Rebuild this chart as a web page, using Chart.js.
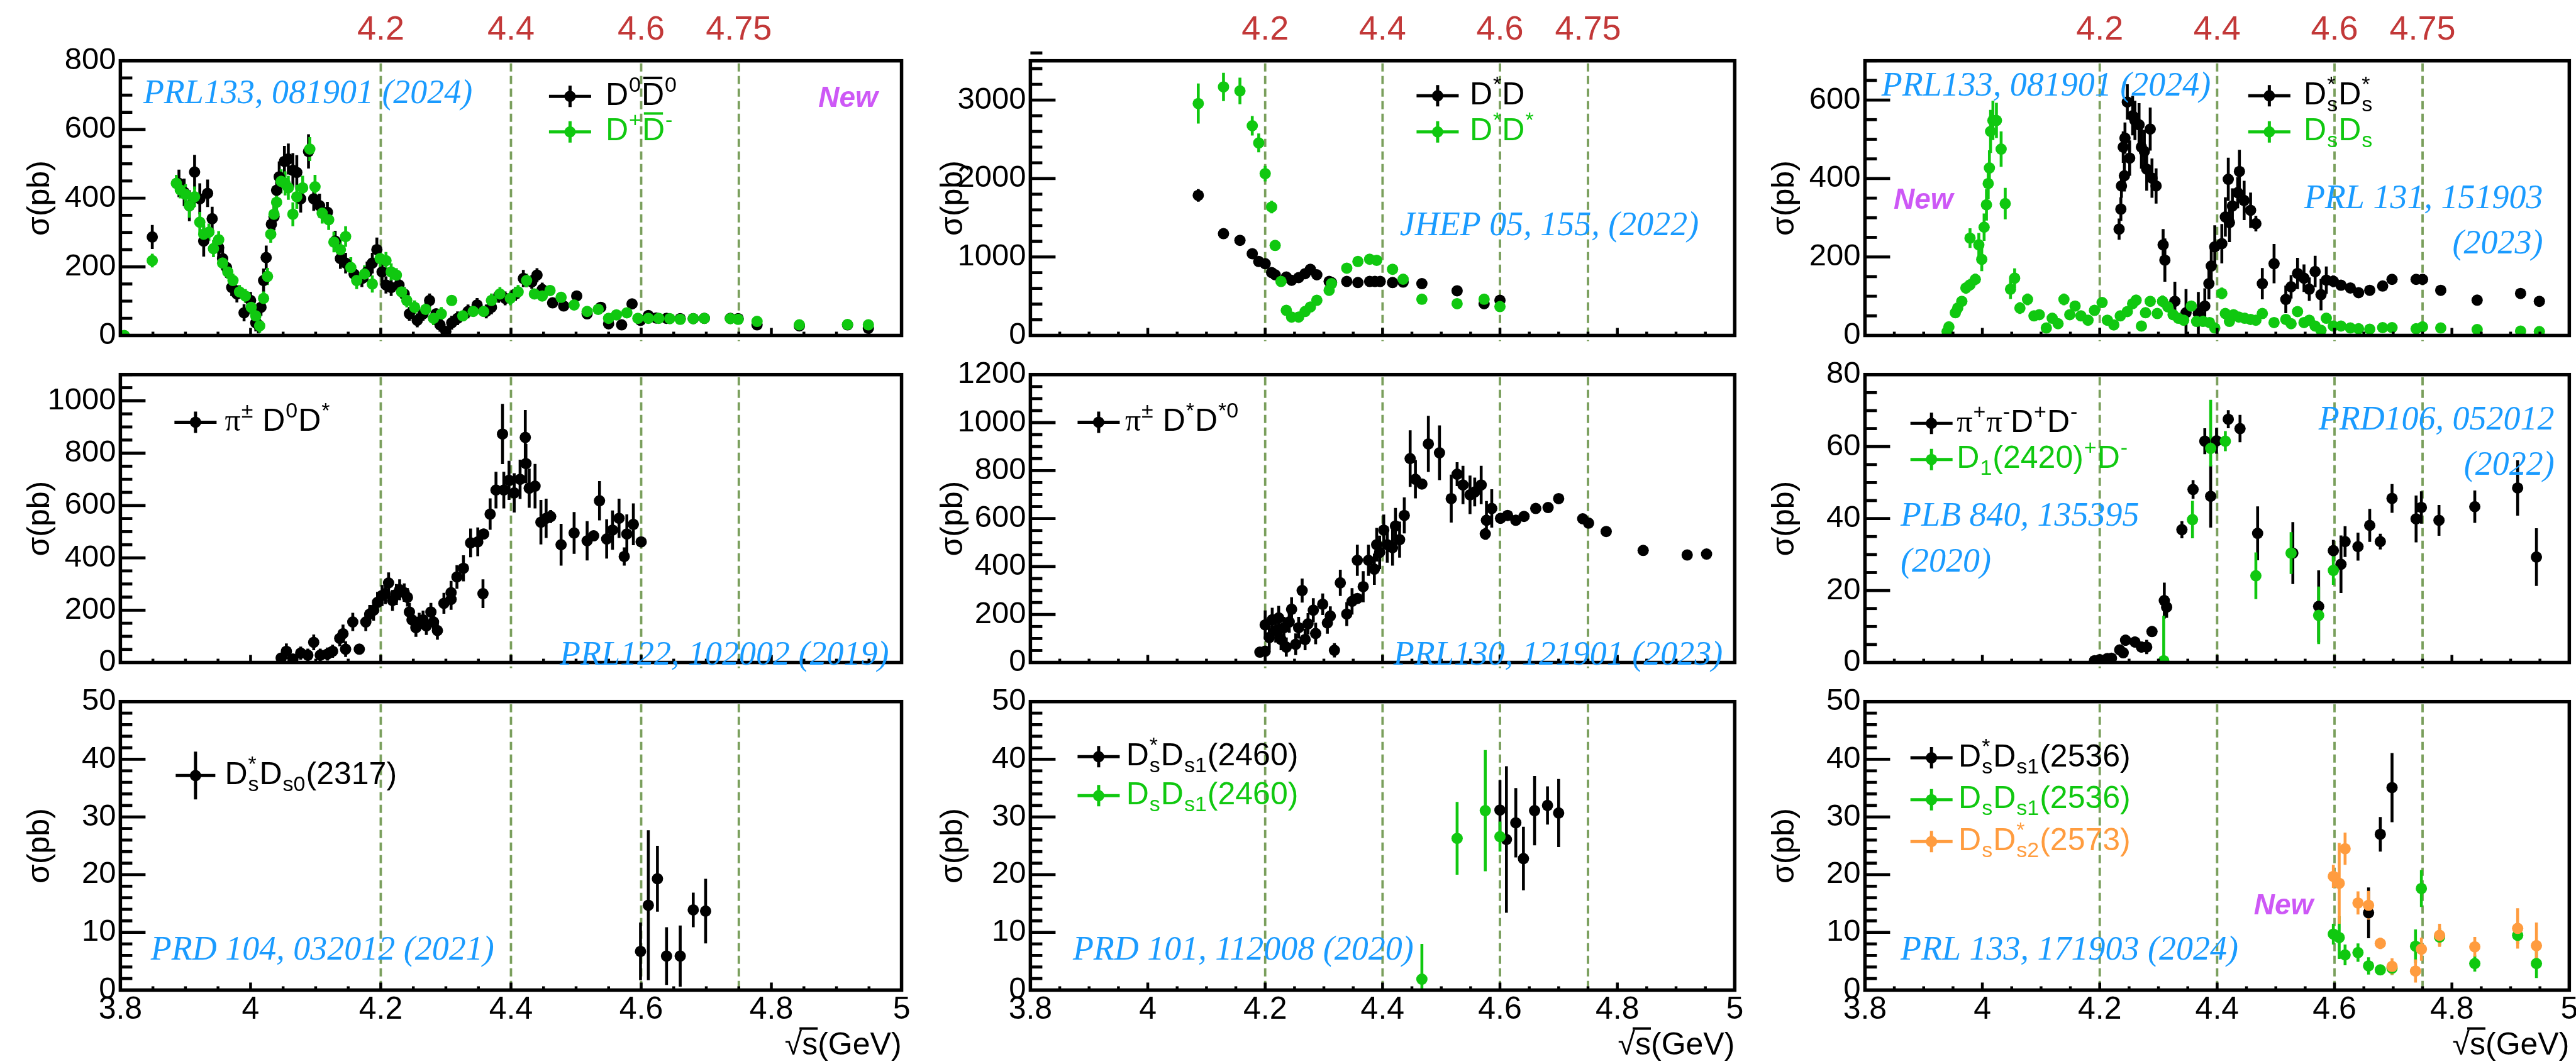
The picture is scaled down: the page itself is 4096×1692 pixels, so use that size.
<!DOCTYPE html>
<html>
<head>
<meta charset="utf-8">
<script src="https://cdn.jsdelivr.net/npm/chart.js@4.4.1/dist/chart.umd.min.js"></script>
<style>
  html, body { margin: 0; padding: 0; background: #fff; width: 4096px; height: 1692px; overflow: hidden; position: relative; }
  canvas { position: absolute; }
</style>
</head>
<body>
<script>
// everything is laid out in reference pixels (4487 x 1853) and scaled by S
const S = 0.912;
const SANS = '"Liberation Sans", Arial, sans-serif';
const SERIF = '"Liberation Serif", "Times New Roman", serif';

// ---- data: [sqrt(s) GeV, sigma pb, err]  or [x, y, errLow, errHigh] ----
const d0d0 = [[3.849,287,35],[3.890,443,40],[3.898,417,40],[3.906,378,45],[3.914,476,50],[3.922,398,45],[3.928,275,45],[3.934,414,40],[3.941,340,35],[3.951,256,35],[3.957,224,30],[3.963,198,30],[3.971,140,25],[3.979,121,25],[3.990,66,25],[4.000,102,25],[4.008,37,25],[4.012,31,25],[4.016,82,25],[4.020,160,35],[4.024,227,35],[4.032,324,40],[4.036,346,40],[4.040,423,40],[4.044,462,45],[4.052,507,45],[4.058,514,45],[4.065,481,50],[4.071,475,50],[4.077,398,40],[4.089,536,50],[4.097,398,35],[4.106,378,35],[4.118,359,30],[4.130,275,30],[4.138,224,30],[4.146,211,30],[4.159,179,25],[4.171,166,25],[4.179,185,30],[4.187,211,30],[4.194,250,35],[4.202,185,30],[4.208,147,25],[4.216,140,25],[4.228,147,20],[4.236,121,20],[4.244,63,20],[4.256,44,20],[4.265,63,20],[4.275,102,20],[4.285,63,15],[4.291,31,20],[4.300,12,15],[4.309,37,20],[4.318,50,20],[4.334,70,20],[4.348,89,20],[4.362,70,20],[4.370,82,20],[4.381,115,20],[4.391,108,20],[4.407,121,20],[4.419,166,25],[4.432,156,20],[4.440,176,20],[4.448,134,20],[4.464,95,15],[4.481,86,15],[4.501,115,15],[4.517,63,15],[4.538,82,15],[4.550,34,12],[4.570,31,12],[4.586,92,15],[4.599,44,12],[4.611,58,6],[4.623,51,6],[4.639,50,6],[4.660,49,6],[4.680,49,6],[4.697,50,6],[4.737,50,6],[4.749,49,6],[4.778,31,8],[4.843,28,8],[4.917,31,8],[4.949,21,8]];
const dpdm = [[3.806,0,5],[3.849,218,20],[3.886,443,25],[3.892,424,25],[3.900,411,30],[3.906,378,35],[3.914,404,30],[3.922,330,30],[3.928,295,30],[3.936,301,25],[3.943,253,25],[3.951,279,25],[3.957,211,20],[3.965,185,20],[3.973,160,20],[3.983,127,20],[3.992,115,20],[4.001,82,20],[4.008,57,20],[4.014,28,20],[4.020,108,20],[4.026,172,25],[4.031,295,25],[4.036,353,30],[4.040,388,30],[4.047,449,35],[4.053,443,35],[4.058,430,35],[4.065,353,35],[4.071,404,35],[4.080,430,35],[4.091,543,35],[4.099,433,35],[4.110,356,30],[4.120,337,30],[4.128,272,30],[4.138,250,30],[4.146,288,30],[4.154,198,30],[4.163,160,25],[4.175,179,25],[4.187,150,25],[4.199,224,25],[4.208,218,25],[4.216,185,25],[4.224,176,20],[4.232,127,20],[4.240,102,20],[4.252,82,20],[4.269,76,20],[4.281,50,20],[4.293,63,20],[4.309,102,15],[4.326,57,15],[4.342,70,15],[4.358,70,15],[4.370,102,20],[4.383,121,20],[4.399,108,20],[4.411,127,20],[4.424,160,20],[4.436,121,15],[4.448,115,15],[4.460,131,15],[4.477,111,15],[4.497,89,15],[4.517,70,15],[4.534,76,12],[4.550,50,12],[4.562,60,12],[4.578,66,12],[4.595,50,10],[4.611,50,6],[4.627,50,6],[4.644,49,6],[4.660,47,6],[4.680,49,6],[4.697,50,6],[4.737,49,6],[4.749,47,6],[4.778,41,7],[4.843,31,7],[4.917,32,7],[4.949,31,7]];

const dstarD = [[4.086,1785,80],[4.129,1297,30],[4.157,1212,30],[4.178,1042,30],[4.189,943,30],[4.200,915,30],[4.211,802,30],[4.217,773,25],[4.236,745,25],[4.245,703,25],[4.257,737,25],[4.268,788,25],[4.277,844,25],[4.288,773,25],[4.309,688,25],[4.313,674,25],[4.339,688,25],[4.358,674,25],[4.378,688,25],[4.387,688,25],[4.396,688,25],[4.417,674,25],[4.435,680,25],[4.467,660,30],[4.527,569,30],[4.573,405,30],[4.600,448,30]];
const dstarDstar = [[4.086,2955,255],[4.129,3167,180],[4.157,3116,170],[4.178,2672,125],[4.189,2453,120],[4.200,2062,100],[4.211,1637,80],[4.217,1147,50],[4.227,688,40],[4.236,320,35],[4.245,235,30],[4.257,235,30],[4.268,306,30],[4.277,363,30],[4.288,448,30],[4.309,575,30],[4.313,660,30],[4.339,858,35],[4.358,943,35],[4.378,972,40],[4.390,958,40],[4.417,844,35],[4.435,717,35],[4.467,462,35],[4.527,405,35],[4.573,462,35],[4.600,368,35]];

const dsstarDsstar = [[4.233,271,27],[4.236,322,30],[4.237,381,30],[4.240,480,40],[4.242,407,40],[4.243,503,40],[4.247,595,45],[4.251,452,45],[4.256,560,50],[4.260,548,50],[4.267,537,55],[4.271,480,55],[4.276,469,55],[4.280,424,55],[4.286,526,55],[4.289,401,50],[4.296,381,45],[4.308,231,40],[4.311,192,55],[4.328,87,50],[4.347,58,60],[4.368,56,55],[4.379,75,45],[4.386,132,40],[4.390,177,45],[4.396,226,55],[4.408,234,50],[4.414,302,50],[4.419,398,55],[4.421,288,50],[4.426,330,45],[4.435,364,40],[4.438,418,55],[4.446,344,50],[4.457,319,45],[4.466,285,20],[4.477,132,40],[4.497,183,50],[4.517,92,35],[4.526,124,30],[4.537,158,40],[4.548,146,35],[4.557,118,30],[4.567,163,40],[4.577,104,40],[4.586,141,35],[4.598,138,15],[4.611,128,8],[4.627,121,8],[4.641,109,8],[4.660,115,8],[4.682,126,8],[4.698,143,8],[4.739,143,8],[4.750,143,8],[4.781,115,8],[4.843,90,8],[4.917,107,8],[4.949,87,8]];
const dsDs = [[3.940,10,8],[3.943,22,10],[3.954,58,12],[3.958,70,12],[3.965,87,12],[3.972,121,15],[3.979,129,15],[3.988,143,15],[3.979,248,25],[3.994,231,30],[3.999,194,30],[4.003,276,35],[4.007,333,40],[4.010,387,40],[4.012,427,45],[4.014,520,55],[4.018,548,50],[4.024,548,45],[4.032,475,45],[4.039,336,40],[4.048,118,25],[4.055,146,25],[4.064,70,15],[4.077,92,15],[4.088,50,12],[4.097,53,12],[4.109,19,12],[4.119,44,12],[4.129,30,12],[4.139,92,15],[4.149,53,12],[4.158,75,12],[4.168,50,12],[4.180,39,12],[4.191,64,12],[4.204,84,12],[4.213,39,12],[4.224,27,12],[4.235,50,12],[4.247,61,12],[4.256,81,12],[4.262,90,12],[4.271,24,12],[4.278,58,12],[4.286,87,12],[4.298,56,12],[4.307,87,15],[4.316,73,12],[4.325,53,12],[4.334,44,12],[4.343,39,12],[4.356,75,12],[4.365,36,12],[4.376,36,12],[4.387,33,12],[4.396,19,12],[4.408,107,15],[4.414,56,12],[4.421,36,10],[4.428,53,10],[4.437,47,10],[4.447,44,10],[4.457,41,10],[4.466,39,10],[4.477,56,10],[4.497,33,10],[4.517,41,10],[4.526,30,10],[4.537,61,10],[4.548,33,10],[4.557,39,10],[4.567,24,10],[4.577,13,8],[4.586,44,8],[4.598,24,5],[4.611,24,5],[4.627,19,4],[4.641,17,4],[4.660,16,4],[4.682,20,4],[4.698,20,4],[4.739,17,4],[4.750,22,4],[4.781,19,4],[4.843,15,4],[4.917,11,4],[4.949,10,4]];

const piD0Dstar = [[4.047,17,20],[4.055,43,30],[4.065,13,20],[4.077,36,25],[4.088,28,25],[4.097,77,30],[4.107,28,25],[4.118,32,25],[4.126,43,25],[4.137,92,30],[4.142,110,35],[4.146,51,30],[4.157,155,35],[4.167,51,20],[4.177,155,35],[4.183,185,35],[4.189,200,40],[4.195,230,40],[4.202,256,40],[4.207,263,40],[4.212,304,40],[4.218,237,40],[4.224,260,40],[4.229,278,40],[4.236,267,35],[4.241,249,35],[4.244,193,35],[4.248,163,35],[4.254,133,35],[4.259,155,35],[4.265,163,35],[4.270,140,35],[4.277,193,35],[4.281,155,35],[4.287,122,35],[4.297,226,40],[4.308,267,45],[4.308,241,40],[4.317,327,45],[4.327,360,50],[4.338,457,55],[4.349,461,55],[4.357,263,55],[4.358,491,20],[4.368,567,60],[4.377,659,70],[4.387,873,115],[4.389,659,70],[4.397,696,75],[4.405,648,75],[4.414,700,75],[4.422,860,105],[4.423,760,75],[4.428,666,75],[4.437,674,85],[4.446,536,85],[4.454,551,75],[4.461,558,25],[4.477,450,80],[4.497,495,80],[4.517,465,75],[4.527,484,20],[4.536,618,75],[4.547,472,75],[4.556,506,75],[4.566,551,75],[4.574,405,35],[4.578,491,75],[4.588,528,80],[4.600,461,15]];
const piDstarDstar0 = [[4.191,43,15],[4.200,47,15],[4.200,157,60],[4.207,104,50],[4.212,178,50],[4.218,133,50],[4.223,186,50],[4.227,96,45],[4.232,145,45],[4.236,64,40],[4.241,169,45],[4.245,222,50],[4.252,76,45],[4.257,145,45],[4.263,300,50],[4.268,96,45],[4.273,161,45],[4.282,218,50],[4.286,121,45],[4.298,243,45],[4.306,165,45],[4.311,194,40],[4.318,51,30],[4.328,332,55],[4.339,202,50],[4.348,255,55],[4.357,267,15],[4.357,426,65],[4.367,316,65],[4.376,426,65],[4.386,389,65],[4.390,491,70],[4.395,459,70],[4.402,552,65],[4.408,491,75],[4.417,479,75],[4.422,569,75],[4.429,512,75],[4.437,613,75],[4.447,850,118],[4.456,764,80],[4.467,744,20],[4.478,911,117],[4.497,874,114],[4.517,683,100],[4.527,785,50],[4.537,740,80],[4.549,699,80],[4.557,711,60],[4.568,740,80],[4.575,536,25],[4.577,593,80],[4.586,642,80],[4.601,601,20],[4.613,613,15],[4.627,593,10],[4.641,609,10],[4.661,642,10],[4.682,646,10],[4.700,683,10],[4.741,599,10],[4.751,581,10],[4.781,546,10],[4.844,467,10],[4.919,448,10],[4.952,452,10]];

const pipiDD = [[4.191,0.5,0.5],[4.200,0.8,0.5],[4.213,1.1,0.6],[4.220,1.2,0.6],[4.234,3.5,1],[4.240,2.7,1.2],[4.244,6.2,1.5],[4.260,5.7,1.5],[4.271,4.3,1.5],[4.280,4.3,2],[4.289,8.6,1.5],[4.310,17.2,5],[4.314,15.4,3],[4.340,36.9,2.4],[4.359,48.1,2.6],[4.379,61.5,3.6],[4.389,46.2,8.7],[4.399,61.6,3.6],[4.419,67.6,2.5],[4.439,65.0,3.8],[4.469,35.9,7.5],[4.529,30.4,8.6],[4.573,15.6,10],[4.598,31.1,3],[4.611,27.3,8],[4.618,33.6,4.3],[4.640,32.2,3.9],[4.660,38.1,4.6],[4.678,33.6,2.2],[4.698,45.6,4],[4.739,39.9,6.5],[4.748,43.1,4.5],[4.778,39.5,4.3],[4.839,43.3,4.5],[4.912,48.5,7.7],[4.944,29.3,8]];
const d1D = [[4.309,0.5,0.5,12.5],[4.358,39.7,5.2],[4.389,59.5,5,13.5],[4.414,61.5,2.8],[4.466,24.1,6.5],[4.526,30.4,5.8],[4.573,13.1,8],[4.598,25.6,4]];

const dsstarDs0 = [[4.599,6.7,5],[4.611,14.7,13],[4.625,19.3,5.7],[4.639,5.9,5],[4.660,5.9,5.3],[4.680,13.9,3],[4.699,13.7,5.6]];
const dsstarDs1_2460 = [[4.600,31.2,5.2],[4.611,26.1,12.7],[4.627,29.0,6],[4.640,22.8,5.5],[4.659,31.1,6],[4.681,32.0,3.3],[4.700,30.7,5.9]];
const dsDs1_2460 = [[4.467,1.9,1.9,6.1],[4.527,26.3,6.3],[4.575,31.1,10.5],[4.600,26.6,2.6]];
const dsstarDs1_2536 = [[4.658,13.4,4.4],[4.678,27.0,3],[4.698,35.1,6]];
const dsDs1_2536 = [[4.598,9.7,1.8],[4.608,9.1,3.7],[4.618,6.1,1.8],[4.640,6.5,1.6],[4.658,4.2,1.5],[4.678,3.5,0.9],[4.698,3.8,1.2],[4.738,7.6,2.9],[4.748,17.6,3.2],[4.779,9.2,1.5],[4.839,4.6,1.4],[4.912,9.5,1.5],[4.944,4.6,2.5]];
const dsDs2_2573 = [[4.598,19.7,2],[4.608,18.5,7],[4.618,24.5,2.8],[4.640,15.1,2],[4.658,14.7,2.5],[4.678,8.1,1],[4.698,4.1,1.4],[4.738,3.3,2],[4.748,7.1,2],[4.779,9.5,2],[4.839,7.5,1.7],[4.912,10.7,3.5],[4.944,7.7,4]];

// axes
const xTicks = [3.8, 4, 4.2, 4.4, 4.6, 4.8, 5];
const markE = [4.2, 4.4, 4.6, 4.75];
const markText = ['4.2', '4.4', '4.6', '4.75'];
const yRange = [[0,800],[0,3500],[0,700],[0,1100],[0,1200],[0,80],[0,50],[0,50],[0,50]];
const yMajor = [200,1000,200,200,200,20,10,10,10];
const yMinor = [50,200,50,50,50,5,2,2,2];
const yLabels = [
  [0,200,400,600,800], [0,1000,2000,3000], [0,200,400,600],
  [0,200,400,600,800,1000], [0,200,400,600,800,1000,1200], [0,20,40,60,80],
  [0,10,20,30,40,50], [0,10,20,30,40,50], [0,10,20,30,40,50]
];

// colours
const BLACK = '#000000', GREEN = '#10c810', ORANGE = '#ff9c3f';
const BLUE = '#1a9bff', MAG = '#cd58f6', RED = '#c23838', DASH = '#7a9f5c';

// panel frames (reference px)
const colX = [[210, 1572], [1796, 3024], [3252, 4480]];
const rowY = [[106, 645], [653, 1215], [1223, 1726]];
const yTitleOff = [140, 134, 140];

const panels = [
  { series: [[d0d0, BLACK], [dpdm, GREEN]],
    legend: { x: 994, tx: 1056, y: [168, 230], labels: [['D', {sup:'0'}, {t:'D', bar:true}, {sup:'0'}], ['D', {sup:'+'}, {t:'D', bar:true}, {sup:'-'}]] },
    notes: [['PRL133, 081901 (2024)', 250, 180, 'left']], news: [[1427, 186]] },
  { series: [[dstarD, BLACK], [dstarDstar, GREEN]],
    legend: { x: 2506, tx: 2562, y: [167, 230], labels: [['D', {sup:'*'}, 'D'], ['D', {sup:'*'}, 'D', {sup:'*'}]] },
    notes: [['JHEP 05, 155, (2022)', 2440, 410, 'left']], news: [] },
  { series: [[dsstarDsstar, BLACK], [dsDs, GREEN]],
    legend: { x: 3957, tx: 4017, y: [167, 230], labels: [['D', {sub:'s', sup:'*'}, 'D', {sub:'s', sup:'*'}], ['D', {sub:'s'}, 'D', {sub:'s'}]] },
    notes: [['PRL133, 081901 (2024)', 3281, 167, 'left'], ['PRL 131, 151903', 4434, 363, 'right'], ['(2023)', 4434, 442, 'right']], news: [[3302, 364]] },
  { series: [[piD0Dstar, BLACK]],
    legend: { x: 341, tx: 392, y: [736], labels: [['π', {sup:'±'}, ' D', {sup:'0'}, 'D', {sup:'*'}]] },
    notes: [['PRL122, 102002 (2019)', 1550, 1159, 'right']], news: [] },
  { series: [[piDstarDstar0, BLACK]],
    legend: { x: 1915, tx: 1961, y: [736], labels: [['π', {sup:'±'}, ' D', {sup:'*'}, 'D', {sup:'*0'}]] },
    notes: [['PRL130, 121901 (2023)', 3003, 1159, 'right']], news: [] },
  { series: [[pipiDD, BLACK], [d1D, GREEN]],
    legend: { x: 3368, tx: 3412, y: [738, 801], labels: [['π', {sup:'+'}, 'π', {sup:'-'}, 'D', {sup:'+'}, 'D', {sup:'-'}], ['D', {sub:'1'}, '(2420)', {sup:'+'}, 'D', {sup:'-'}]] },
    notes: [['PRD106, 052012', 4454, 749, 'right'], ['(2022)', 4454, 828, 'right'], ['PLB 840, 135395', 3314, 917, 'left'], ['(2020)', 3314, 996, 'left']], news: [] },
  { series: [[dsstarDs0, BLACK]],
    legend: { x: 341, tx: 392, y: [1352], tall: true, labels: [['D', {sub:'s', sup:'*'}, 'D', {sub:'s0'}, '(2317)']] },
    notes: [['PRD 104, 032012 (2021)', 263, 1673, 'left']], news: [] },
  { series: [[dsstarDs1_2460, BLACK], [dsDs1_2460, GREEN]],
    legend: { x: 1915, tx: 1963, y: [1319, 1387], labels: [['D', {sub:'s', sup:'*'}, 'D', {sub:'s1'}, '(2460)'], ['D', {sub:'s'}, 'D', {sub:'s1'}, '(2460)']] },
    notes: [['PRD 101, 112008 (2020)', 1870, 1673, 'left']], news: [] },
  { series: [[dsstarDs1_2536, BLACK], [dsDs1_2536, GREEN], [dsDs2_2573, ORANGE]],
    legend: { x: 3368, tx: 3415, y: [1321, 1394, 1467], labels: [['D', {sub:'s', sup:'*'}, 'D', {sub:'s1'}, '(2536)'], ['D', {sub:'s'}, 'D', {sub:'s1'}, '(2536)'], ['D', {sub:'s'}, 'D', {sub:'s2', sup:'*'}, '(2573)']] },
    notes: [['PRL 133, 171903 (2024)', 3314, 1673, 'left']], news: [[3930, 1594]] }
];

// text with ROOT style sub/superscripts
function drawRich(ctx, segs, x, y, F) {
  let cx = x;
  const f = F * 0.68;
  segs.forEach(s => {
    if (typeof s === 'string' || s.t !== undefined) {
      const t = typeof s === 'string' ? s : s.t;
      ctx.font = F + 'px ' + (t === 'π' ? SERIF : SANS);
      const w = ctx.measureText(t).width;
      ctx.fillText(t, cx, y);
      if (s.bar) ctx.fillRect(cx + w * 0.08, y - F * 0.9, w * 0.84, F * 0.08);
      cx += w;
    } else {
      ctx.font = f + 'px ' + SANS;
      let w = 0;
      if (s.sup) { ctx.fillText(s.sup, cx + 1, y - F * 0.42); w = Math.max(w, ctx.measureText(s.sup).width); }
      if (s.sub) { ctx.fillText(s.sub, cx + 1, y + F * 0.22); w = Math.max(w, ctx.measureText(s.sub).width); }
      cx += w + 2;
    }
  });
}

function makePlugin(p, i, r, c, ox, oy) {
  const X = v => v * S - ox, Y = v => v * S - oy;
  return {
    id: 'panel' + i,
    beforeDatasetsDraw(chart) {
      const { ctx, chartArea: a, scales: { x, y } } = chart;
      ctx.save();
      // reference energies
      ctx.strokeStyle = DASH; ctx.lineWidth = 3.8; ctx.setLineDash([13, 7]);
      const extra = r < 2 ? 9 : 0;
      markE.forEach(v => {
        const px = x.getPixelForValue(v);
        ctx.beginPath(); ctx.moveTo(px, a.top + 4); ctx.lineTo(px, a.bottom + extra); ctx.stroke();
      });
      ctx.setLineDash([]);
      // error bars
      ctx.beginPath(); ctx.rect(a.left, a.top, a.right - a.left, a.bottom - a.top); ctx.clip();
      ctx.lineWidth = 4.6;
      p.series.forEach(([pts, col]) => {
        ctx.strokeStyle = col;
        ctx.beginPath();
        pts.forEach(q => {
          const lo = q[2], hi = q.length > 3 ? q[3] : q[2];
          const px = x.getPixelForValue(q[0]);
          ctx.moveTo(px, y.getPixelForValue(q[1] - lo));
          ctx.lineTo(px, y.getPixelForValue(q[1] + hi));
        });
        ctx.stroke();
      });
      ctx.restore();
    },
    afterDraw(chart) {
      const { ctx, chartArea: a, scales: { x, y } } = chart;
      ctx.save();
      ctx.strokeStyle = '#000'; ctx.fillStyle = '#000';
      // y ticks (inside)
      const n = Math.round((yRange[i][1] - yRange[i][0]) / yMinor[i]);
      for (let k = 0; k <= n; k++) {
        const v = yRange[i][0] + k * yMinor[i];
        const py = y.getPixelForValue(v);
        const maj = Math.abs(v / yMajor[i] - Math.round(v / yMajor[i])) < 1e-6;
        ctx.lineWidth = 4.8;
        ctx.beginPath(); ctx.moveTo(a.left, py); ctx.lineTo(a.left + (maj ? 40 : 19), py); ctx.stroke();
      }
      // x ticks (inside)
      for (let k = 0; k <= 24; k++) {
        const px = x.getPixelForValue(3.8 + k * 0.05);
        const maj = k % 4 === 0;
        ctx.lineWidth = 4.5;
        ctx.beginPath(); ctx.moveTo(px, a.bottom); ctx.lineTo(px, a.bottom - (maj ? 12 : 6)); ctx.stroke();
      }
      // frame
      ctx.lineWidth = 5.5;
      ctx.strokeRect(a.left, a.top, a.right - a.left, a.bottom - a.top);

      // y title
      ctx.save();
      ctx.translate(a.left - yTitleOff[c] * S, (a.top + a.bottom) / 2);
      ctx.rotate(-Math.PI / 2);
      ctx.font = '50px ' + SANS; ctx.textAlign = 'center'; ctx.textBaseline = 'middle';
      ctx.fillText('σ(pb)', 0, 0);
      ctx.restore();

      // legend
      const lg = p.legend;
      lg.labels.forEach((segs, j) => {
        const col = p.series[j][1];
        const mx = X(lg.x), my = Y(lg.y[j]);
        const hl = lg.tall ? 63 : 67, vl = lg.tall ? 76 : 34;
        ctx.strokeStyle = col; ctx.fillStyle = col; ctx.lineWidth = 5;
        ctx.beginPath();
        ctx.moveTo(mx - hl / 2, my); ctx.lineTo(mx + hl / 2, my);
        ctx.moveTo(mx, my - vl / 2); ctx.lineTo(mx, my + vl / 2);
        ctx.stroke();
        ctx.beginPath(); ctx.arc(mx, my, 9, 0, Math.PI * 2); ctx.fill();
        ctx.textAlign = 'left'; ctx.textBaseline = 'alphabetic';
        drawRich(ctx, segs, X(lg.tx), Y(lg.y[j] + 15), 50);
      });

      // references
      ctx.font = 'italic 54px ' + SERIF; ctx.fillStyle = BLUE; ctx.textBaseline = 'alphabetic';
      p.notes.forEach(([t, fx, fy, al]) => { ctx.textAlign = al; ctx.fillText(t, X(fx), Y(fy)); });
      ctx.font = 'italic bold 46px ' + SANS; ctx.fillStyle = MAG; ctx.textAlign = 'left';
      p.news.forEach(([fx, fy]) => ctx.fillText('New', X(fx), Y(fy)));

      // energy labels on top
      if (r === 0) {
        ctx.font = '54px ' + SANS; ctx.fillStyle = RED; ctx.textAlign = 'center';
        markE.forEach((v, k) => ctx.fillText(markText[k], x.getPixelForValue(v), Y(69)));
      }
      // x title
      if (r === 2) {
        ctx.font = '50px ' + SANS; ctx.fillStyle = '#000'; ctx.textAlign = 'right';
        const base = Y(1838);
        ctx.fillText('√s(GeV)', a.right, base);
        const wRest = ctx.measureText('s(GeV)').width, wS = ctx.measureText('s').width;
        const x0 = a.right - wRest;
        ctx.fillRect(x0 - 4, base - 50 * 0.86, wS + 4, 4);
      }
      ctx.restore();
    }
  };
}

panels.forEach((p, i) => {
  const r = Math.floor(i / 3), c = i % 3;
  const [L, R] = colX[c], [T, B] = rowY[r];
  const x0 = L - 200, x1 = R + 40, y0 = r === 0 ? 0 : T - 60, y1 = r === 2 ? 1853 : B + 60;
  const ox = x0 * S, oy = y0 * S;
  const cv = document.createElement('canvas');
  cv.width = Math.round((x1 - x0) * S);
  cv.height = Math.round((y1 - y0) * S);
  cv.style.left = ox + 'px';
  cv.style.top = oy + 'px';
  document.body.appendChild(cv);
  const yW = L * S - ox, padT = T * S - oy, padR = cv.width - (R * S - ox);
  const bottomRoom = cv.height - (B * S - oy);

  new Chart(cv, {
    type: 'scatter',
    data: {
      datasets: p.series.map(([pts, col], k) => ({
        data: pts.map(q => ({ x: q[0], y: q[1] })),
        backgroundColor: col, borderColor: col,
        pointRadius: 9, pointHoverRadius: 9, pointBorderWidth: 0,
        order: p.series.length - k
      }))
    },
    options: {
      responsive: false, animation: false, devicePixelRatio: 1, events: [],
      layout: { padding: { left: 0, top: padT, right: padR, bottom: r === 2 ? 0 : bottomRoom } },
      plugins: { legend: { display: false }, tooltip: { enabled: false } },
      scales: {
        x: {
          type: 'linear', min: 3.8, max: 5, display: r === 2,
          grid: { display: false, drawTicks: false }, border: { display: false },
          afterBuildTicks: s => { s.ticks = xTicks.map(v => ({ value: v })); },
          afterFit: s => { s.height = bottomRoom; },
          ticks: { autoSkip: false, maxRotation: 0, minRotation: 0, padding: 2, color: '#000',
                   font: { family: SANS, size: 50 }, callback: v => String(v) }
        },
        y: {
          type: 'linear', min: yRange[i][0], max: yRange[i][1],
          grid: { display: false, drawTicks: false }, border: { display: false },
          afterBuildTicks: s => { s.ticks = yLabels[i].map(v => ({ value: v })); },
          afterFit: s => { s.width = yW; },
          ticks: { autoSkip: false, padding: 7, color: '#000',
                   font: { family: SANS, size: 49 }, callback: v => String(v) }
        }
      }
    },
    plugins: [makePlugin(p, i, r, c, ox, oy)]
  });
});
</script>
</body>
</html>
